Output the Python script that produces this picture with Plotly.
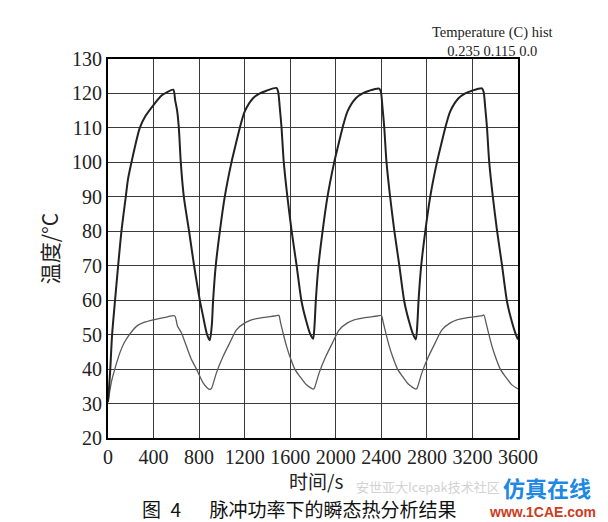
import plotly.graph_objects as go

# Hot (junction) temperature curve: time (s), temperature (°C)
hot_t = [0, 10, 20, 36, 62, 89, 118, 156, 175, 206, 240, 279, 330, 396, 470, 520, 573,
         590, 607, 622, 639, 666, 712, 756, 806, 835, 870, 894,
         912, 923, 946, 982, 1025, 1084, 1120, 1157, 1201, 1274, 1333, 1392, 1479,
         1494, 1508, 1523, 1543, 1573, 1611, 1655, 1699, 1740, 1775, 1801,
         1814, 1825, 1848, 1884, 1927, 1986, 2022, 2059, 2103, 2176, 2235, 2294, 2381,
         2396, 2410, 2425, 2445, 2475, 2513, 2557, 2601, 2642, 2677, 2703,
         2716, 2727, 2750, 2786, 2829, 2888, 2924, 2961, 3005, 3078, 3137, 3196, 3283,
         3298, 3312, 3327, 3347, 3377, 3415, 3459, 3503, 3544, 3579, 3600]
hot_v = [30.5, 35, 40, 50, 60, 70, 80, 90, 95, 100, 105, 110, 113.5, 116.5, 119.4, 120.4, 121.1,
         118, 115, 110, 100, 90, 80, 70, 60, 55.3, 50, 48.4,
         53, 60, 70, 80, 90, 100, 105, 110, 114.8, 118.6, 120, 120.8, 121.6,
         120.5, 116, 110.4, 100.2, 90.6, 80.4, 70.3, 59.7, 54, 50.2, 48.8,
         53, 60, 70, 80, 90, 100, 105, 110, 114.8, 118.6, 120, 120.8, 121.4,
         120.5, 116, 110.4, 100.2, 90.6, 80.4, 70.3, 59.7, 54, 50.2, 48.6,
         53, 60, 70, 80, 90, 100, 105, 110, 114.8, 118.6, 120, 120.8, 121.5,
         120.5, 116, 110.4, 100.2, 90.6, 80.4, 70.3, 59.7, 54, 50.2, 48.6]

# Lower (case) temperature curve
low_t = [0, 15, 35, 60, 104, 140, 177, 250, 320, 396, 514, 585,
         610, 645, 689, 730, 777, 835, 870, 894,
         910, 930, 952, 1011, 1069, 1128, 1201, 1260, 1333, 1420, 1480, 1500,
         1515, 1537, 1566, 1596, 1640, 1684, 1740, 1801,
         1812, 1832, 1854, 1913, 1971, 2030, 2103, 2162, 2235, 2322, 2382, 2400,
         2417, 2439, 2468, 2498, 2542, 2586, 2642, 2703,
         2714, 2734, 2756, 2815, 2873, 2932, 3005, 3064, 3137, 3224, 3284, 3300,
         3319, 3341, 3370, 3400, 3444, 3488, 3544, 3600]
low_v = [30.3, 33.5, 37, 40, 44.7, 47.5, 49.5, 52.4, 53.6, 54.3, 55.1, 55.5,
         52.5, 50.5, 46.6, 43, 40, 36, 34.6, 34.1,
         34.5, 36.5, 38.9, 43.7, 47.6, 51.4, 53.4, 54.3, 54.8, 55.2, 55.5, 55.6,
         53.5, 50.5, 46.8, 43.7, 40, 37.9, 35.5, 34.2,
         34.5, 36.5, 38.9, 43.7, 47.6, 51.4, 53.4, 54.3, 54.8, 55.2, 55.5, 55.6,
         53.5, 50.5, 46.8, 43.7, 40, 37.9, 35.5, 34.2,
         34.5, 36.5, 38.9, 43.7, 47.6, 51.4, 53.4, 54.3, 54.8, 55.2, 55.5, 55.7,
         53.5, 50.5, 46.8, 43.7, 40, 37.9, 35.5, 34.2]

x_ticks = [0, 400, 800, 1200, 1600, 2000, 2400, 2800, 3200, 3600]
y_ticks = [20, 30, 40, 50, 60, 70, 80, 90, 100, 110, 120, 130]

serif = "Liberation Serif, Times New Roman, serif"
cjk = "Noto Sans CJK SC"

fig = go.Figure()
fig.add_trace(go.Scatter(x=low_t, y=low_v, mode="lines",
                         line=dict(color="#5a5a5a", width=1.3, shape="spline", smoothing=0.7),
                         showlegend=False))
fig.add_trace(go.Scatter(x=hot_t, y=hot_v, mode="lines",
                         line=dict(color="#222222", width=2, shape="spline", smoothing=0.7),
                         showlegend=False))

fig.update_layout(
    width=608, height=522,
    margin=dict(l=100, r=98, t=51, b=92),
    paper_bgcolor="white", plot_bgcolor="white",
    xaxis=dict(range=[0, 3600], tickvals=x_ticks, ticktext=[str(v) for v in x_ticks],
               showgrid=True, gridcolor="#3a3a3a", gridwidth=1.4,
               showline=True, linecolor="black", linewidth=2, mirror=True,
               ticks="", zeroline=False,
               tickfont=dict(family=serif, size=20, color="#222")),
    yaxis=dict(range=[20, 130], tickvals=y_ticks,
               showgrid=True, gridcolor="#3a3a3a", gridwidth=1.4,
               showline=True, linecolor="black", linewidth=2, mirror=True,
               ticks="", zeroline=False,
               tickfont=dict(family=serif, size=20, color="#222"),
               title=dict(text="温度/°C", font=dict(family=cjk, size=21, color="#222"),
                          standoff=8)),
)

ann = [
    dict(text="时间/s", x=0.507, y=-0.112, font=dict(family=cjk, size=19, color="#222")),
    dict(text="图\u20024\u2003\u2002脉冲功率下的瞬态热分析结果", x=0.466, y=-0.185,
         font=dict(family=cjk, size=19, color="#111")),
    dict(text="Temperature (C) hist<br>0.235 0.115 0.0", x=0.937, y=1.046,
         font=dict(family=serif, size=14.5, color="#222")),
    dict(text="安世亚大Icepak技术社区", x=0.78, y=-0.127,
         font=dict(family=cjk, size=13, color="#d2d2d2")),
    dict(text="<b>仿真在线</b>", x=1.071, y=-0.128,
         font=dict(family=cjk, size=22, color="#1e88e5")),
    dict(text="<b>www.1CAE.com</b>", x=1.059, y=-0.196,
         font=dict(family="Liberation Sans", size=14, color="#d03a20")),
]
for a in ann:
    a.update(xref="paper", yref="paper", showarrow=False, xanchor="center", yanchor="middle")
    fig.add_annotation(**a)

fig.write_html("out.html")
